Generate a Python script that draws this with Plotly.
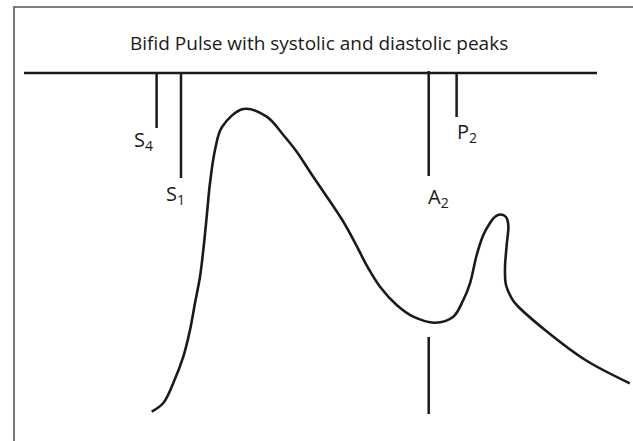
import plotly.graph_objects as go

# Pulse waveform (pixel-space coordinates)
pulse_x = [151.7, 163.3, 173.3, 183.3, 190.0, 195.0, 200.0, 203.3, 206.7, 210.0, 215.0, 222.0,
           243.3, 266.7, 283.3, 296.7, 310.9, 342.3, 355.3, 367.4, 380.0, 396.7, 413.3, 435.0,
           453.3, 463.3, 470.0, 476.7, 483.3, 490.0, 495.0, 500.7, 506.0, 508.3, 506.7, 505.0,
           506.0, 511.7, 516.7, 545.0, 585.4, 629.8]
pulse_y = [411.7, 403.0, 383.0, 356.7, 330.0, 303.0, 276.7, 250.0, 216.7, 183.0, 150.0, 127.0,
           109.0, 116.7, 135.0, 151.7, 173.3, 220.0, 243.3, 266.7, 286.7, 305.0, 316.7, 322.7,
           316.7, 300.0, 283.3, 255.0, 235.0, 223.0, 216.7, 214.5, 217.0, 225.0, 245.0, 268.0,
           285.0, 298.3, 305.0, 330.0, 360.0, 383.3]

# Heart-sound markers
marker_names = ["S<sub>4</sub>", "S<sub>1</sub>", "A<sub>2</sub>", "P<sub>2</sub>"]
marker_x = [156.6, 181.0, 428.7, 456.6]
marker_top = [73, 73, 71, 73]
marker_bottom = [128, 178, 176, 117]
label_x = [143, 175, 438, 467]
label_y = [140, 194, 197, 132]

# Baseline and lower A2 mark
baseline_x = [24, 597]
baseline_y = [73, 73]
a2_low_x = [428.7, 428.7]
a2_low_y = [337, 414]

# Frame
frame_x = [14, 14, 640]
frame_y = [445, 7, 7]

title_text = "Bifid Pulse with systolic and diastolic peaks"
title_pos = (319, 43)

INK = "#1a1a1a"
fig = go.Figure()
fig.add_trace(go.Scatter(x=frame_x, y=frame_y, mode="lines",
                         line=dict(color="#555555", width=1.6), hoverinfo="skip"))
fig.add_trace(go.Scatter(x=baseline_x, y=baseline_y, mode="lines",
                         line=dict(color=INK, width=2.6), hoverinfo="skip"))
for mx, t, b in zip(marker_x, marker_top, marker_bottom):
    fig.add_trace(go.Scatter(x=[mx, mx], y=[t, b], mode="lines",
                             line=dict(color=INK, width=2.5), hoverinfo="skip"))
fig.add_trace(go.Scatter(x=a2_low_x, y=a2_low_y, mode="lines",
                         line=dict(color=INK, width=2.5), hoverinfo="skip"))
fig.add_trace(go.Scatter(x=pulse_x, y=pulse_y, mode="lines",
                         line=dict(color=INK, width=2.6, shape="spline", smoothing=1.0),
                         hoverinfo="skip"))

for name, lx, ly in zip(marker_names, label_x, label_y):
    fig.add_annotation(x=lx, y=ly, text=name, showarrow=False, xanchor="center", yanchor="middle",
                       font=dict(family="Open Sans", size=20, color=INK))

fig.add_annotation(x=title_pos[0], y=title_pos[1], text=title_text, showarrow=False,
                   xanchor="center", yanchor="middle",
                   font=dict(family="Open Sans", size=19, color=INK))

fig.update_layout(width=633, height=441, margin=dict(l=0, r=0, t=0, b=0), autosize=False,
                  paper_bgcolor="white", plot_bgcolor="white", showlegend=False,
                  xaxis=dict(range=[0, 633], visible=False, fixedrange=True),
                  yaxis=dict(range=[441, 0], visible=False, fixedrange=True))
fig.write_html("out.html", config={"responsive": False, "displayModeBar": False},
               post_script="document.body.style.margin='0';document.body.style.overflow='hidden';")
